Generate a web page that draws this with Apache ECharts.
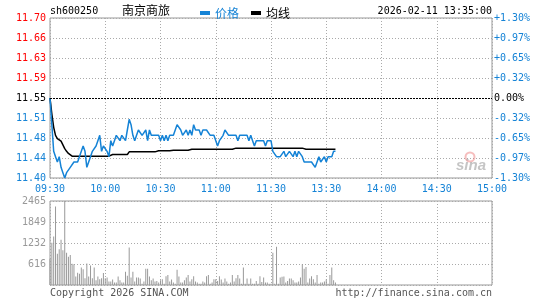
<!DOCTYPE html>
<html>
<head>
<meta charset="utf-8">
<script src="https://cdn.jsdelivr.net/npm/echarts@6/dist/echarts.min.js"></script>
<style>
  html, body { margin: 0; padding: 0; background: #fff; }
  #chart { width: 545px; height: 300px; }
</style>
</head>
<body>
<div id="chart"></div>
<script>
// 分时数据（每分钟一个点，09:30 起）
const timeTicks = ['09:30', '10:00', '10:30', '11:00', '11:30', '13:30', '14:00', '14:30', '15:00']
const priceTicks = ['11.40', '11.44', '11.48', '11.51', '11.55', '11.59', '11.63', '11.66', '11.70']
const pctTicks = ['-1.30%', '-0.97%', '-0.65%', '-0.32%', '0.00%', '+0.32%', '+0.65%', '+0.97%', '+1.30%']
const volTicks = ['', '616', '1232', '1849', '2465']
const basePrice = 11.55

const prices = [
  11.55, 11.50, 11.45, 11.44, 11.43, 11.44, 11.42, 11.41, 11.40, 11.41,
  11.41, 11.42, 11.42, 11.43, 11.43, 11.43, 11.43, 11.45, 11.46, 11.45,
  11.42, 11.43, 11.44, 11.45, 11.45, 11.46, 11.47, 11.48, 11.45, 11.46,
  11.46, 11.45, 11.44, 11.47, 11.46, 11.47, 11.48, 11.48, 11.47, 11.48,
  11.48, 11.47, 11.49, 11.51, 11.50, 11.48, 11.47, 11.48, 11.49, 11.49,
  11.48, 11.48, 11.49, 11.47, 11.49, 11.48, 11.48, 11.48, 11.48, 11.48,
  11.47, 11.48, 11.47, 11.48, 11.47, 11.48, 11.48, 11.48, 11.49, 11.50,
  11.50, 11.49, 11.48, 11.48, 11.49, 11.48, 11.49, 11.48, 11.50, 11.49,
  11.49, 11.49, 11.48, 11.49, 11.49, 11.49, 11.49, 11.48, 11.48, 11.48,
  11.48, 11.46, 11.47, 11.47, 11.48, 11.49, 11.49, 11.48, 11.48, 11.48,
  11.48, 11.48, 11.47, 11.48, 11.48, 11.48, 11.48, 11.48, 11.47, 11.48,
  11.47, 11.46, 11.47, 11.47, 11.47, 11.47, 11.47, 11.46, 11.47, 11.47,
  11.47, 11.45, 11.45, 11.44, 11.44, 11.44, 11.44, 11.45, 11.44, 11.44,
  11.45, 11.45, 11.44, 11.45, 11.44, 11.45, 11.45, 11.44, 11.43, 11.43,
  11.43, 11.43, 11.43, 11.43, 11.42, 11.43, 11.44, 11.43, 11.43, 11.44,
  11.43, 11.44, 11.44, 11.44, 11.45, 11.45
]

const avgPrices = [
  11.550, 11.520, 11.495, 11.480, 11.474, 11.471, 11.469, 11.462, 11.455, 11.450,
  11.446, 11.443, 11.441, 11.441, 11.441, 11.441, 11.441, 11.441, 11.441, 11.441,
  11.441, 11.441, 11.441, 11.441, 11.441, 11.441, 11.441, 11.441, 11.441, 11.441,
  11.441, 11.441, 11.441, 11.441, 11.444, 11.444, 11.444, 11.444, 11.444, 11.444,
  11.444, 11.444, 11.444, 11.449, 11.449, 11.449, 11.449, 11.449, 11.449, 11.449,
  11.449, 11.449, 11.449, 11.449, 11.449, 11.449, 11.449, 11.449, 11.449, 11.451,
  11.451, 11.451, 11.451, 11.451, 11.451, 11.451, 11.451, 11.452, 11.452, 11.452,
  11.452, 11.452, 11.452, 11.452, 11.452, 11.452, 11.452, 11.454, 11.454, 11.454,
  11.454, 11.454, 11.454, 11.454, 11.454, 11.454, 11.454, 11.454, 11.454, 11.454,
  11.454, 11.454, 11.454, 11.454, 11.454, 11.454, 11.454, 11.454, 11.454, 11.454,
  11.456, 11.456, 11.456, 11.456, 11.456, 11.456, 11.456, 11.456, 11.456, 11.456,
  11.456, 11.456, 11.456, 11.456, 11.456, 11.456, 11.456, 11.456, 11.456, 11.456,
  11.456, 11.456, 11.456, 11.456, 11.456, 11.456, 11.456, 11.456, 11.456, 11.456,
  11.456, 11.456, 11.456, 11.456, 11.456, 11.456, 11.456, 11.456, 11.456, 11.454,
  11.454, 11.454, 11.454, 11.454, 11.454, 11.454, 11.454, 11.454, 11.454, 11.454,
  11.454, 11.454, 11.454, 11.454, 11.454, 11.454
]

const volumes = [
  770, 1240, 1420, 2300, 920, 1050, 1330, 1020, 2465, 950,
  830, 880, 620, 610, 250, 360, 330, 510, 460, 200,
  630, 250, 570, 200, 510, 140, 250, 170, 200, 350,
  200, 220, 100, 100, 160, 70, 70, 250, 140, 70,
  70, 390, 270, 1100, 220, 390, 100, 220, 220, 190,
  40, 100, 480, 480, 250, 140, 190, 100, 120, 70,
  140, 170, 40, 260, 290, 100, 160, 70, 40, 450,
  250, 70, 70, 140, 220, 290, 100, 170, 260, 100,
  70, 40, 40, 100, 70, 260, 290, 40, 70, 170,
  170, 120, 260, 160, 70, 190, 100, 40, 70, 290,
  100, 200, 290, 190, 40, 510, 40, 190, 40, 190,
  40, 40, 120, 40, 260, 90, 220, 70, 70, 40,
  40, 950, 40, 1120, 40, 220, 240, 250, 70, 120,
  190, 190, 140, 70, 70, 100, 220, 610, 480, 530,
  70, 190, 260, 170, 70, 290, 40, 70, 70, 100,
  160, 40, 290, 510, 140, 70
]

const BLUE = '#1583d6'
const RED = '#ff0000'
const GRID_LINE = { show: true, lineStyle: { color: '#aaa', type: [1, 2], width: 1 } }
const MONO = 'DejaVu Sans Mono'

// 涨跌颜色
const tickColor = (idx) => (idx > 4 ? RED : idx === 4 ? '#000' : BLUE)

const chart = echarts.init(document.getElementById('chart'))

const option = {
  animation: false,
  backgroundColor: '#fff',
  legend: {
    left: 195,
    top: 2,
    itemWidth: 10,
    itemHeight: 4,
    itemGap: 12,
    icon: 'rect',
    selectedMode: false,
    data: [
      { name: '价格', textStyle: { color: BLUE } },
      { name: '均线', textStyle: { color: '#000' } }
    ],
    textStyle: { fontFamily: 'Noto Sans CJK SC', fontSize: 12, padding: [0, 0, 0, 0] }
  },
  grid: [
    { left: 50, top: 18, width: 442, height: 160, show: true, borderColor: '#999', borderWidth: 1 },
    { left: 50, top: 201, width: 442, height: 84, show: true, borderColor: '#999', borderWidth: 1 }
  ],
  xAxis: [
    {
      type: 'value', gridIndex: 0, min: 0, max: 240, interval: 30,
      axisLine: { show: false }, axisTick: { show: false },
      axisLabel: {
        margin: 6, color: BLUE, fontFamily: MONO, fontSize: 10,
        showMinLabel: true, showMaxLabel: true,
        formatter: (v) => timeTicks[Math.round(v / 30)]
      },
      splitLine: GRID_LINE
    },
    {
      type: 'value', gridIndex: 1, min: 0, max: 240, interval: 30,
      axisLine: { show: false }, axisTick: { show: false },
      axisLabel: { show: false },
      splitLine: GRID_LINE
    }
  ],
  yAxis: [
    {
      type: 'value', gridIndex: 0, min: 11.4, max: 11.7, interval: 0.0375,
      axisLine: { show: false }, axisTick: { show: false },
      axisLabel: {
        margin: 4, fontFamily: MONO, fontSize: 10,
        formatter: (v) => priceTicks[Math.round((v - 11.4) / 0.0375)],
        color: (v) => tickColor(Math.round((v - 11.4) / 0.0375))
      },
      splitLine: GRID_LINE
    },
    {
      type: 'value', gridIndex: 0, position: 'right', min: -1.3, max: 1.3, interval: 0.325,
      axisLine: { show: false }, axisTick: { show: false },
      axisLabel: {
        margin: 2, fontFamily: MONO, fontSize: 10,
        formatter: (v) => pctTicks[Math.round((v + 1.3) / 0.325)],
        color: (v) => tickColor(Math.round((v + 1.3) / 0.325))
      },
      splitLine: { show: false }
    },
    {
      type: 'value', gridIndex: 1, min: 0, max: 2465, interval: 616.25,
      axisLine: { show: false }, axisTick: { show: false },
      axisLabel: {
        margin: 4, fontFamily: MONO, fontSize: 10, color: '#999',
        formatter: (v) => volTicks[Math.round(v / 616.25)]
      },
      splitLine: GRID_LINE
    }
  ],
  series: [
    {
      name: '价格',
      type: 'line',
      xAxisIndex: 0,
      yAxisIndex: 0,
      data: prices.map((p, i) => [i, p]),
      showSymbol: false,
      color: BLUE,
      lineStyle: { width: 1.5, color: BLUE },
      z: 3,
      markLine: {
        silent: true,
        symbol: ['none', 'none'],
        label: { show: false },
        lineStyle: { color: '#000', type: [2, 1], width: 1 },
        data: [{ yAxis: basePrice }]
      }
    },
    {
      name: '均线',
      type: 'line',
      xAxisIndex: 0,
      yAxisIndex: 0,
      data: avgPrices.map((p, i) => [i, p]),
      showSymbol: false,
      color: '#000',
      lineStyle: { width: 1.5, color: '#000' },
      z: 2
    },
    {
      name: '成交量',
      type: 'bar',
      xAxisIndex: 1,
      yAxisIndex: 2,
      barWidth: 1,
      data: volumes.map((v, i) => [i, v]),
      itemStyle: { color: '#999' }
    }
  ],
  graphic: [
    { type: 'text', left: 50, top: 6, style: { text: 'sh600250', font: '10px "DejaVu Sans Mono"', fill: '#000' } },
    { type: 'text', left: 122, top: 4, style: { text: '南京商旅', font: '12px "Noto Sans CJK SC"', fill: '#000' } },
    { type: 'text', right: 53, top: 6, style: { text: '2026-02-11 13:35:00', font: '10px "DejaVu Sans Mono"', fill: '#000' } },
    { type: 'text', left: 50, top: 288, style: { text: 'Copyright 2026 SINA.COM', font: '10px "DejaVu Sans Mono"', fill: '#555' } },
    { type: 'text', right: 53, top: 288, style: { text: 'http://finance.sina.com.cn', font: '10px "DejaVu Sans Mono"', fill: '#555' } },
    { type: 'circle', shape: { cx: 470, cy: 157, r: 4.5 }, style: { fill: 'none', stroke: 'rgba(235,110,110,0.45)', lineWidth: 2 }, z: 1 },
    { type: 'text', left: 456, top: 158, style: { text: 'sina', font: 'italic bold 15px "Liberation Sans"', fill: 'rgba(150,150,150,0.55)' }, z: 1 }
  ]
}

chart.setOption(option)
</script>
</body>
</html>
